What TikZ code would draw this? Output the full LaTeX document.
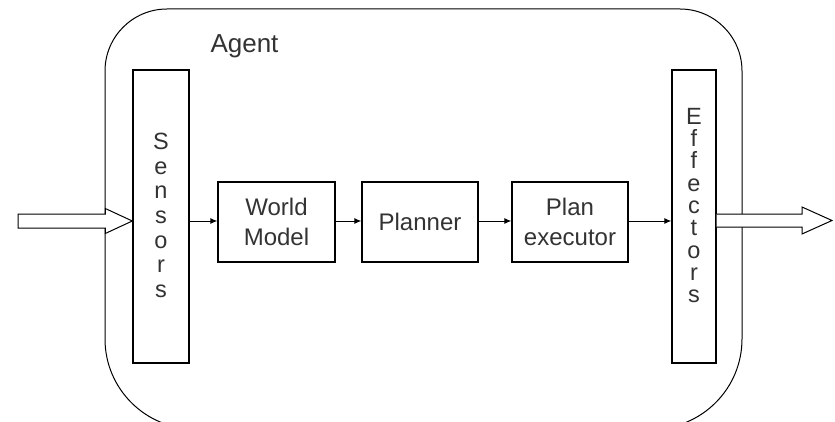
\documentclass[tikz,border=0pt]{standalone}
\usepackage{fontspec}
\setmainfont{Liberation Sans}
\usetikzlibrary{arrows.meta,shadows,calc}
\begin{document}
\begin{tikzpicture}[x=1pt,y=1pt,
  unitbox/.style={draw=black, line width=1.4pt, fill=white, inner sep=0pt,
    drop shadow={shadow xshift=0.9pt, shadow yshift=-1.2pt, fill=black, opacity=1}},
  boxtext/.style={text=black!80, font=\fontsize{24}{30}\selectfont, align=center},
  flow/.style={line width=1pt, -{Latex[length=7pt,width=6pt]}},
  fatarrow/.style={draw=black, line width=1pt, fill=white, line join=miter}]
  \useasboundingbox (0,0) rectangle (835,421);
  \fill[white] (0,0) rectangle (835,421);

  % agent boundary: rounded frame running off the bottom edge
  \draw[line width=1pt] (105,82) -- (105,350)
    arc[start angle=180,end angle=90,radius=62] -- (680,412)
    arc[start angle=90,end angle=0,radius=62] -- (742,82)
    arc[start angle=0,end angle=-90,radius=90] -- (195,-8)
    arc[start angle=270,end angle=180,radius=90] -- cycle;
  \node[anchor=base west, text=black!80, font=\fontsize{26}{30}\selectfont] (agent) at (207,368) {Agent};

  % sensor and effector columns
  \node[unitbox, minimum width=56, minimum height=293] (sensors) at (161,204.5) {};
  \node[boxtext, font=\fontsize{23.5}{24.7}\selectfont] (senstext) at ($(sensors.center)+(0,1)$)
    {S\\e\\n\\s\\o\\r\\s};
  \node[unitbox, minimum width=44, minimum height=293] (effectors) at (694,204.5) {};
  \node[boxtext, font=\fontsize{23.5}{22.3}\selectfont] (efftext) at ($(effectors.center)+(0,11)$)
    {E\\f\\f\\e\\c\\t\\o\\r\\s};

  % processing stages
  \node[unitbox, boxtext, minimum width=117, minimum height=80] (world) at (276.5,199) {World\\Model};
  \node[unitbox, boxtext, minimum width=116, minimum height=80] (planner) at (420,199) {Planner};
  \node[unitbox, boxtext, minimum width=116, minimum height=80] (executor) at (570,199) {Plan\\executor};

  \draw[flow] (sensors.east |- 0,200) -- (world.west |- 0,200);
  \draw[flow] (world.east |- 0,200) -- (planner.west |- 0,200);
  \draw[flow] (planner.east |- 0,200) -- (executor.west |- 0,200);
  \draw[flow] (executor.east |- 0,200) -- (effectors.west |- 0,200);

  % hollow input and output arrows
  \coordinate (in) at (18,200);
  \coordinate (out) at (832,200.5);
  \draw[fatarrow] ($(in)+(0,7)$) -- ($(sensors.west |- in)+(-27,7)$)
    -- ($(sensors.west |- in)+(-27,12.5)$) -- (sensors.west |- in)
    -- ($(sensors.west |- in)+(-27,-12.5)$) -- ($(sensors.west |- in)+(-27,-7)$)
    -- ($(in)+(0,-7)$) -- cycle;
  \draw[fatarrow] ($(effectors.east |- out)+(0,6.5)$) -- ($(out)+(-30,6.5)$)
    -- ($(out)+(-30,13.5)$) -- (out) -- ($(out)+(-30,-13.5)$)
    -- ($(out)+(-30,-6.5)$) -- ($(effectors.east |- out)+(0,-6.5)$);
\end{tikzpicture}
\end{document}
